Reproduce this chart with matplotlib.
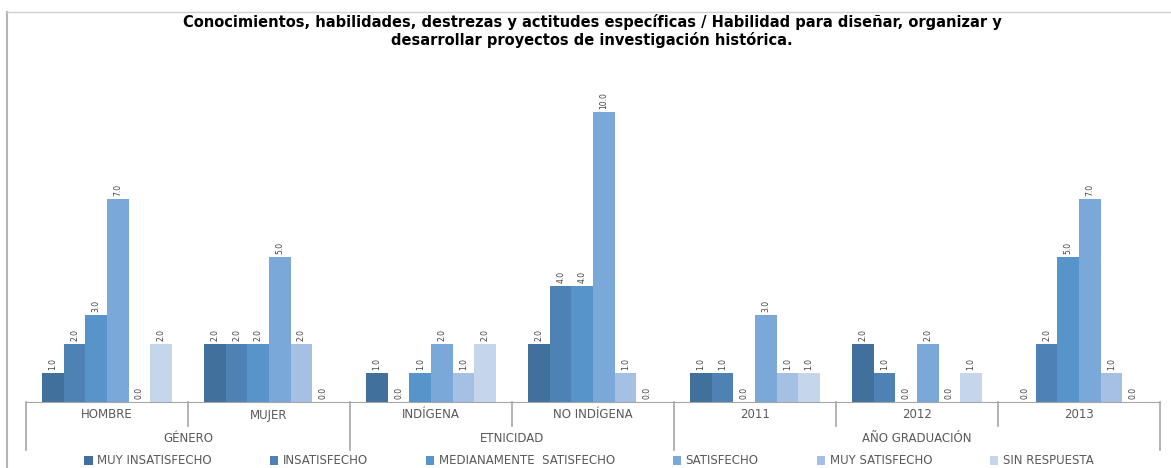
import matplotlib
matplotlib.use("Agg")
import matplotlib.pyplot as plt
from matplotlib.lines import Line2D
import numpy as np

title = ("Conocimientos, habilidades, destrezas y actitudes específicas / Habilidad para diseñar, organizar y\n"
         "desarrollar proyectos de investigación histórica.")
categories = ["HOMBRE", "MUJER", "INDÍGENA", "NO INDÍGENA", "2011", "2012", "2013"]
groups = ["GÉNERO", "ETNICIDAD", "AÑO GRADUACIÓN"]
group_spans = [(0, 1), (2, 3), (4, 6)]
series_names = ["MUY INSATISFECHO", "INSATISFECHO", "MEDIANAMENTE  SATISFECHO",
                "SATISFECHO", "MUY SATISFECHO", "SIN RESPUESTA"]
muy_insatisfecho = [1, 2, 1, 2, 1, 2, 0]
insatisfecho = [2, 2, 0, 4, 1, 1, 2]
medianamente = [3, 2, 1, 4, 0, 0, 5]
satisfecho = [7, 5, 2, 10, 3, 2, 7]
muy_satisfecho = [0, 2, 1, 1, 1, 0, 1]
sin_respuesta = [2, 0, 2, 0, 1, 1, 0]
series = [muy_insatisfecho, insatisfecho, medianamente, satisfecho, muy_satisfecho, sin_respuesta]
colors = ["#41709D", "#4E81B4", "#5694C9", "#7AA8D8", "#A5C0E3", "#C5D6EB"]

W, H = 1171, 468
fig = plt.figure(figsize=(W / 100, H / 100), dpi=100)
ax_left, ax_right, ax_base, ax_top = 26, 1160, 402, 60
ax = fig.add_axes([ax_left / W, (H - ax_base) / H, (ax_right - ax_left) / W, (ax_base - ax_top) / H])

x = np.arange(len(categories))
bw = 0.133
for i, (vals, c, name) in enumerate(zip(series, colors, series_names)):
    bars = ax.bar(x + (i - 2.5) * bw, vals, width=bw, color=c, label=name, linewidth=0)
    for b, v in zip(bars, vals):
        ax.annotate(f"{v:.1f}", (b.get_x() + b.get_width() / 2, v), xytext=(0, 2),
                    textcoords="offset points", rotation=90, ha="center", va="bottom",
                    fontsize=5.5, color="#404040")

ax.set_xlim(-0.5, len(categories) - 0.5)
ax.set_ylim(0, (ax_base - ax_top) / 29.0)
for s in ["top", "left", "right"]:
    ax.spines[s].set_visible(False)
ax.spines["bottom"].set_color("#A6A6A6")
ax.set_yticks([])
ax.set_xticks([])

axh = ax_base - ax_top
trans = ax.get_xaxis_transform()
lc = "#A6A6A6"
group_edges = [-0.5, 1.5, 3.5, 6.5]
inner_edges = [0.5, 2.5, 4.5, 5.5]
for e in group_edges:
    ax.plot([e, e], [0, -48 / axh], transform=trans, color=lc, lw=1.2, clip_on=False)
for e in inner_edges:
    ax.plot([e, e], [0, -24 / axh], transform=trans, color=lc, lw=1.2, clip_on=False)
for xi, cat in zip(x, categories):
    ax.text(xi, -13 / axh, cat, transform=trans, ha="center", va="center",
            fontsize=8.5, color="#595959")
for g, (a, b) in zip(groups, group_spans):
    ax.text((a + b) / 2, -36 / axh, g, transform=trans, ha="center", va="center",
            fontsize=8.5, color="#595959")

fig.text(592 / W, 1 - 31 / H, title, ha="center", va="center", fontsize=10.5,
         fontweight="bold", color="#000000", linespacing=1.1)

leg = fig.legend(loc="center", bbox_to_anchor=(589 / W, 1 - 461 / H), ncol=6, frameon=False,
                 fontsize=8.5, handlelength=0.7, handleheight=0.7, handletextpad=0.4,
                 columnspacing=4.9, labelcolor="#595959")

fig.add_artist(Line2D([7 / W, 7 / W], [0, 1 - 12 / H], transform=fig.transFigure,
                      color="#B5B5B5", lw=1.5))
fig.add_artist(Line2D([7 / W, 1], [1 - 12 / H, 1 - 12 / H], transform=fig.transFigure,
                      color="#D0D0D0", lw=1.0))

fig.savefig("out.png", dpi=100)
